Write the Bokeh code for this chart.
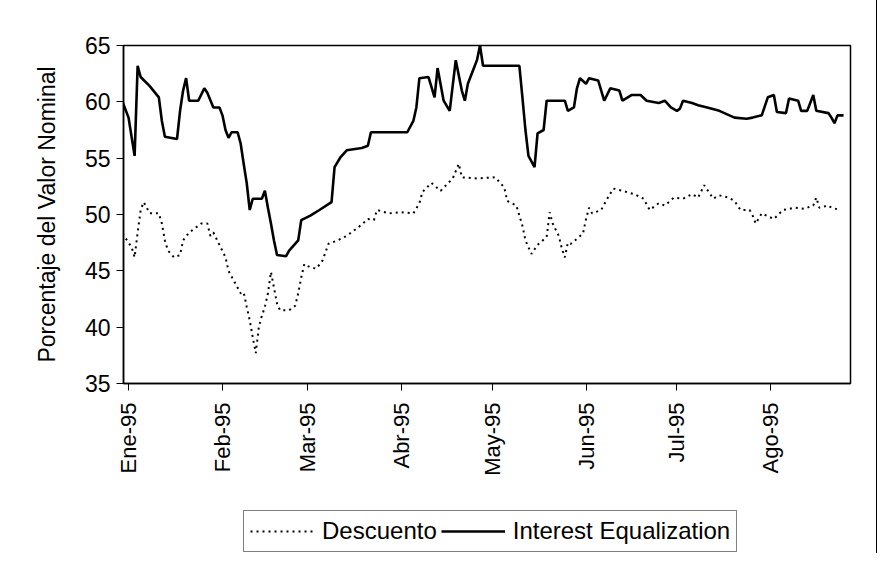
import math
from datetime import datetime
import pandas as pd
from bokeh.plotting import figure
from bokeh.layouts import column
from bokeh.models import Range1d, FixedTicker, Legend, LegendItem
from bokeh.embed import file_html
from bokeh.resources import INLINE

# ---------------- data ----------------
ie_dates = ["1994-12-30", "1995-01-01", "1995-01-02", "1995-01-03", "1995-01-04", "1995-01-05",
            "1995-01-08", "1995-01-11", "1995-01-12", "1995-01-13", "1995-01-17", "1995-01-18",
            "1995-01-19", "1995-01-20", "1995-01-21", "1995-01-24", "1995-01-26", "1995-01-27",
            "1995-01-29", "1995-01-31", "1995-02-01", "1995-02-02", "1995-02-03", "1995-02-04",
            "1995-02-06", "1995-02-07", "1995-02-08", "1995-02-09", "1995-02-10", "1995-02-11",
            "1995-02-14", "1995-02-15", "1995-02-16", "1995-02-17", "1995-02-18", "1995-02-19",
            "1995-02-22", "1995-02-23", "1995-02-26", "1995-02-27", "1995-03-02", "1995-03-05",
            "1995-03-09", "1995-03-10", "1995-03-12", "1995-03-14", "1995-03-19", "1995-03-21",
            "1995-03-22", "1995-04-03", "1995-04-05", "1995-04-06", "1995-04-07", "1995-04-10",
            "1995-04-11", "1995-04-12", "1995-04-13", "1995-04-15", "1995-04-17", "1995-04-19",
            "1995-04-21", "1995-04-22", "1995-04-23", "1995-04-25", "1995-04-26", "1995-04-27",
            "1995-04-28", "1995-05-10", "1995-05-11", "1995-05-12", "1995-05-13", "1995-05-15",
            "1995-05-16", "1995-05-18", "1995-05-19", "1995-05-25", "1995-05-26", "1995-05-28",
            "1995-05-29", "1995-05-30", "1995-06-01", "1995-06-02", "1995-06-05", "1995-06-07",
            "1995-06-09", "1995-06-12", "1995-06-13", "1995-06-16", "1995-06-19", "1995-06-21",
            "1995-06-25", "1995-06-27", "1995-06-29", "1995-07-01", "1995-07-02", "1995-07-03",
            "1995-07-06", "1995-07-08", "1995-07-11", "1995-07-15", "1995-07-20", "1995-07-24",
            "1995-07-26", "1995-07-29", "1995-07-31", "1995-08-02", "1995-08-03", "1995-08-06",
            "1995-08-07", "1995-08-10", "1995-08-11", "1995-08-13", "1995-08-15", "1995-08-16",
            "1995-08-20", "1995-08-21", "1995-08-22", "1995-08-23", "1995-08-25"]
ie_values = [60.0, 58.6, 56.9, 55.2, 63.2, 62.2,
             61.4, 60.4, 58.3, 56.9, 56.7, 59.2,
             61.0, 62.1, 60.1, 60.1, 61.2, 60.8,
             59.5, 59.5, 58.8, 57.5, 56.8, 57.3,
             57.3, 56.3, 54.5, 52.8, 50.4, 51.4,
             51.4, 52.1, 50.6, 49.2, 47.7, 46.4,
             46.3, 46.8, 47.7, 49.5, 49.9, 50.4,
             51.1, 54.2, 55.1, 55.7, 55.9, 56.1,
             57.3, 57.3, 58.3, 59.5, 62.1, 62.2,
             61.3, 60.4, 63.0, 60.1, 59.2, 63.7,
             61.0, 60.1, 61.6, 63.0, 63.7, 65.0,
             63.2, 63.2, 60.4, 57.5, 55.2, 54.2,
             57.2, 57.5, 60.1, 60.1, 59.2, 59.5,
             61.2, 62.1, 61.6, 62.1, 61.9, 60.1,
             61.2, 61.0, 60.1, 60.6, 60.6, 60.1,
             59.9, 60.1, 59.5, 59.2, 59.4, 60.1,
             59.9, 59.7, 59.5, 59.2, 58.6, 58.5,
             58.6, 58.8, 60.4, 60.6, 59.1, 59.0,
             60.3, 60.1, 59.2, 59.2, 60.6, 59.2,
             59.0, 58.6, 58.1, 58.8, 58.8]

desc_dates = ["1994-12-30", "1995-01-02", "1995-01-03", "1995-01-04", "1995-01-05", "1995-01-06",
              "1995-01-08", "1995-01-11", "1995-01-12", "1995-01-13", "1995-01-14", "1995-01-16",
              "1995-01-18", "1995-01-19", "1995-01-21", "1995-01-25", "1995-01-27", "1995-01-28",
              "1995-01-29", "1995-01-31", "1995-02-02", "1995-02-03", "1995-02-05", "1995-02-07",
              "1995-02-08", "1995-02-09", "1995-02-10", "1995-02-11", "1995-02-12", "1995-02-13",
              "1995-02-14", "1995-02-15", "1995-02-16", "1995-02-17", "1995-02-18", "1995-02-19",
              "1995-02-20", "1995-02-23", "1995-02-25", "1995-02-26", "1995-02-27", "1995-02-28",
              "1995-03-02", "1995-03-04", "1995-03-06", "1995-03-08", "1995-03-11", "1995-03-14",
              "1995-03-18", "1995-03-21", "1995-03-23", "1995-03-24", "1995-03-28", "1995-04-01",
              "1995-04-05", "1995-04-07", "1995-04-08", "1995-04-11", "1995-04-14", "1995-04-18",
              "1995-04-20", "1995-04-21", "1995-04-26", "1995-05-02", "1995-05-05", "1995-05-06",
              "1995-05-09", "1995-05-11", "1995-05-12", "1995-05-14", "1995-05-16", "1995-05-19",
              "1995-05-20", "1995-05-21", "1995-05-23", "1995-05-24", "1995-05-25", "1995-05-26",
              "1995-05-27", "1995-05-31", "1995-06-01", "1995-06-02", "1995-06-03", "1995-06-06",
              "1995-06-08", "1995-06-10", "1995-06-13", "1995-06-17", "1995-06-20", "1995-06-22",
              "1995-06-25", "1995-06-27", "1995-06-30", "1995-07-03", "1995-07-06", "1995-07-08",
              "1995-07-10", "1995-07-13", "1995-07-15", "1995-07-18", "1995-07-20", "1995-07-22",
              "1995-07-25", "1995-07-26", "1995-07-27", "1995-07-29", "1995-08-02", "1995-08-05",
              "1995-08-09", "1995-08-12", "1995-08-15", "1995-08-16", "1995-08-17", "1995-08-20",
              "1995-08-21", "1995-08-24"]
desc_values = [48.3, 47.1, 46.2, 48.4, 50.4, 51.1,
               50.1, 50.1, 49.2, 47.7, 46.8, 46.2,
               46.4, 47.7, 48.4, 49.2, 49.2, 48.1,
               48.4, 47.3, 46.2, 45.0, 44.0, 43.0,
               43.1, 41.8, 40.6, 39.1, 37.7, 40.0,
               41.0, 41.8, 43.0, 44.9, 43.5, 42.1,
               41.5, 41.5, 41.9, 43.0, 44.4, 45.6,
               45.3, 45.2, 45.9, 47.4, 47.7, 48.1,
               48.9, 49.6, 49.5, 50.4, 50.1, 50.2,
               50.1, 51.0, 52.0, 52.8, 52.1, 53.2,
               54.5, 53.3, 53.2, 53.3, 52.4, 51.2,
               50.8, 49.0, 47.7, 46.5, 47.3, 48.0,
               50.2, 49.2, 48.1, 47.0, 46.2, 47.5,
               47.4, 48.3, 49.6, 50.6, 50.1, 50.4,
               51.4, 52.3, 52.1, 51.8, 51.4, 50.4,
               51.0, 50.8, 51.5, 51.4, 51.8, 51.5,
               52.6, 51.4, 51.7, 51.5, 51.2, 50.4,
               50.4, 49.9, 49.2, 50.1, 49.6, 50.4,
               50.6, 50.5, 50.8, 51.5, 50.6, 50.8,
               50.6, 50.4]

month_ticks = ["1995-01-01", "1995-02-01", "1995-03-01", "1995-04-01",
               "1995-05-01", "1995-06-01", "1995-07-01", "1995-08-01"]
month_labels = ["Ene-95", "Feb-95", "Mar-95", "Abr-95", "May-95", "Jun-95", "Jul-95", "Ago-95"]
y_ticks = [35, 40, 45, 50, 55, 60, 65]

series_names = ["Descuento", "Interest Equalization"]
y_title = "Porcentaje del Valor Nominal"

# ---------------- styles ----------------
FONT = "Liberation Sans"
IE_STYLE = dict(line_color="black", line_width=2.6)
DESC_STYLE = dict(line_color="black", line_width=2, line_dash="2 4")

X_RANGE = (datetime(1994, 12, 30, 8), datetime(1995, 8, 27, 7))

# ---------------- main chart ----------------
p = figure(width=876, height=510, x_axis_type="datetime",
           output_backend="svg", toolbar_location=None,
           x_range=Range1d(*X_RANGE), y_range=Range1d(35, 65),
           min_border_left=123, min_border_right=26,
           min_border_top=45, min_border_bottom=127)

p.xgrid.visible = False
p.ygrid.visible = False
p.outline_line_color = "black"
p.outline_line_width = 1.5
p.background_fill_color = "white"
p.border_fill_color = "white"
p.styles = {"box-shadow": "-1px 0 0 0 #000, 1px 0 0 0 #000, 0 -1px 0 0 #000"}

p.line(pd.to_datetime(desc_dates), desc_values, **DESC_STYLE)
p.line(pd.to_datetime(ie_dates), ie_values, **IE_STYLE)

tick_ms = [int(pd.Timestamp(d).value // 10**6) for d in month_ticks]
p.xaxis.ticker = FixedTicker(ticks=tick_ms)
p.xaxis.major_label_overrides = {t: lab for t, lab in zip(tick_ms, month_labels)}
p.xaxis.major_label_orientation = math.pi / 2
p.xaxis.major_label_text_font = FONT
p.xaxis.major_label_text_font_size = "22px"
p.xaxis.major_label_text_color = "black"
p.xaxis.major_label_standoff = 12
p.xaxis.major_tick_out = 7
p.xaxis.major_tick_in = 0
p.xaxis.minor_tick_out = 0
p.xaxis.minor_tick_in = 0
p.xaxis.axis_line_color = "black"
p.xaxis.axis_line_width = 1.5
p.xaxis.major_tick_line_color = "black"

p.yaxis.ticker = FixedTicker(ticks=y_ticks)
p.yaxis.major_label_text_font = FONT
p.yaxis.major_label_text_font_size = "23px"
p.yaxis.major_label_text_color = "black"
p.yaxis.major_label_standoff = 6
p.yaxis.major_tick_out = 7
p.yaxis.major_tick_in = 0
p.yaxis.minor_tick_out = 0
p.yaxis.minor_tick_in = 0
p.yaxis.axis_line_color = "black"
p.yaxis.axis_line_width = 1.5
p.yaxis.major_tick_line_color = "black"
p.yaxis.axis_label = y_title
p.yaxis.axis_label_text_font = FONT
p.yaxis.axis_label_text_font_size = "23px"
p.yaxis.axis_label_text_font_style = "normal"
p.yaxis.axis_label_text_color = "black"
p.yaxis.axis_label_standoff = 22

# ---------------- legend strip below the chart ----------------
# (its frame is aligned with the chart's frame by the column layout; the
#  series are out of this strip's y range, so only the legend is visible)
lg = figure(width=876, height=43, x_axis_type="datetime",
            output_backend="svg", toolbar_location=None,
            x_axis_location=None, y_axis_location=None,
            x_range=Range1d(*X_RANGE), y_range=Range1d(0, 1),
            min_border=0, min_border_left=0, min_border_right=0,
            min_border_top=0, min_border_bottom=0)
lg.xgrid.visible = False
lg.ygrid.visible = False
lg.outline_line_color = None
lg.background_fill_color = "white"
lg.border_fill_color = "white"
lg.styles = {"box-shadow": "-1px 0 0 0 #000, 1px 0 0 0 #000"}

k_desc = lg.line(pd.to_datetime(desc_dates), desc_values, **DESC_STYLE)
k_ie = lg.line(pd.to_datetime(ie_dates), ie_values, **IE_STYLE)

legend = Legend(items=[LegendItem(label=series_names[0], renderers=[k_desc]),
                       LegendItem(label=series_names[1], renderers=[k_ie])],
                location=(120, 1), orientation="horizontal",
                border_line_color="black", border_line_width=1,
                background_fill_color="white", background_fill_alpha=1.0,
                padding=6, spacing=4, glyph_width=64, label_standoff=8,
                label_text_font=FONT, label_text_font_size="24px",
                label_text_color="black", margin=0)
lg.add_layout(legend)

page = column(p, lg, spacing=0)

open("out.html", "w").write(file_html(page, INLINE))
